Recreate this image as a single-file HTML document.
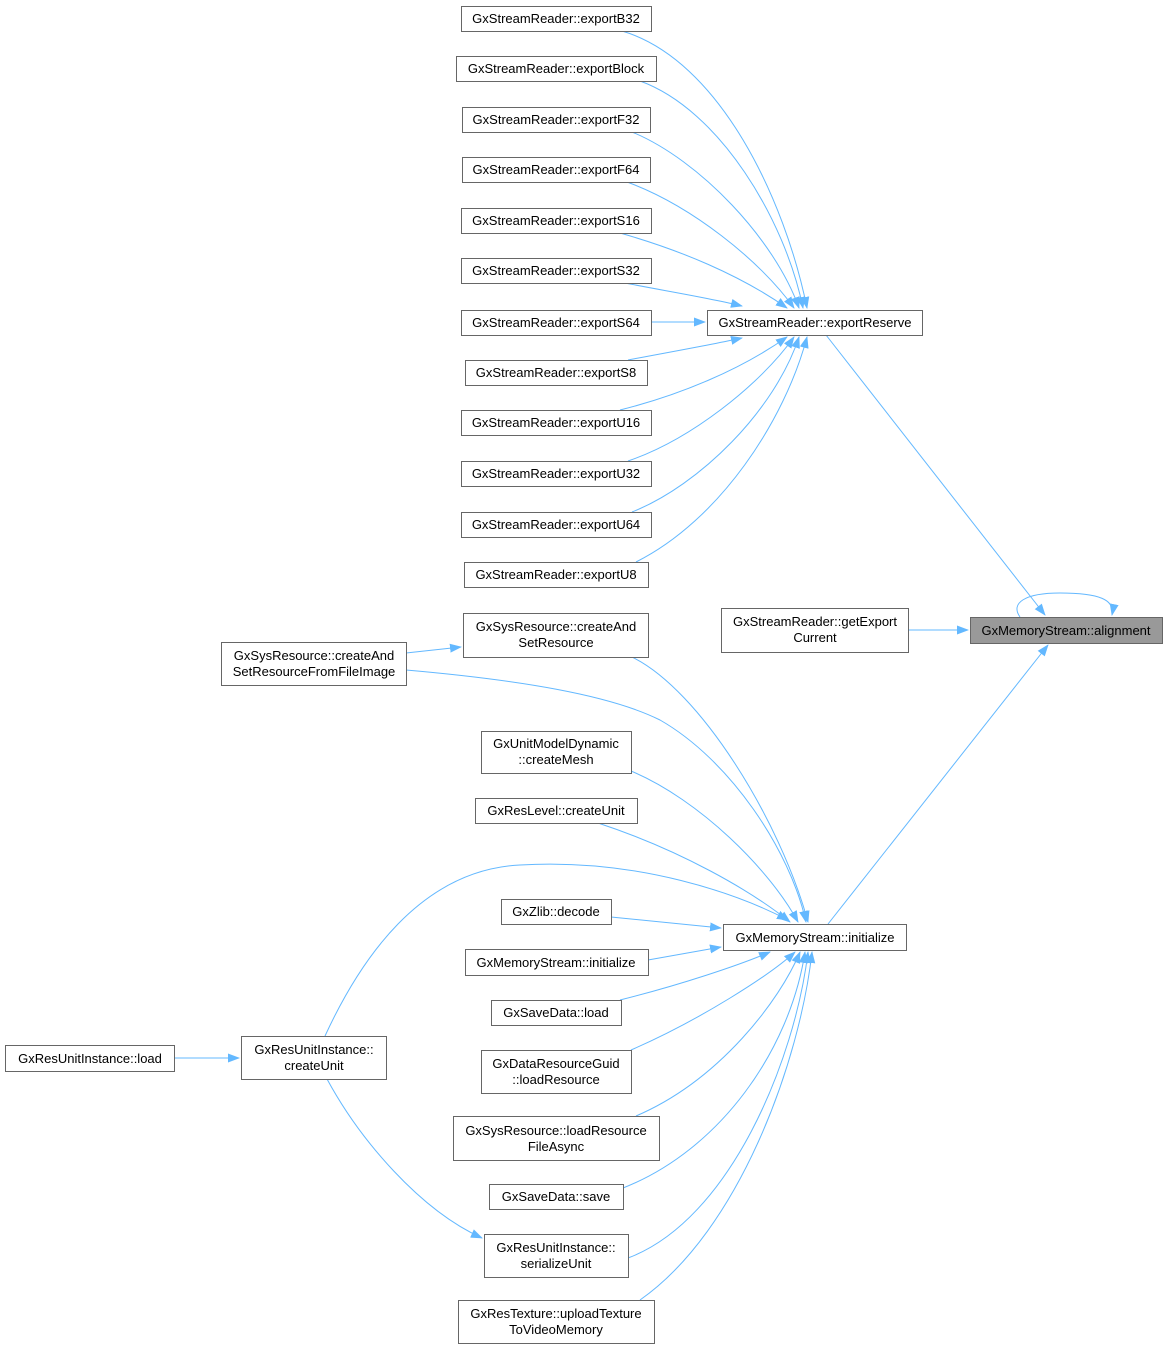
<!DOCTYPE html>
<html><head><meta charset="utf-8"><style>
html,body{margin:0;padding:0;background:#fff;width:1167px;height:1349px;overflow:hidden}
svg text{font-family:"Liberation Sans",Arial,sans-serif;font-size:13px;fill:#000}
</style></head><body>
<svg width="1167" height="1349" viewBox="0 0 1167 1349" xmlns="http://www.w3.org/2000/svg">
<defs>
<marker id="a" markerUnits="userSpaceOnUse" markerWidth="12" markerHeight="10" refX="11" refY="4.5" orient="auto">
<path d="M0,0 L12,4.5 L0,9 z" fill="#63b8ff"/></marker>
</defs>
<g fill="none" stroke="#63b8ff" stroke-width="1" marker-end="url(#a)">
<path d="M622,31 C720,60 785,200 807,308"/>
<path d="M640,81 C720,110 785,220 803,308"/>
<path d="M632,132 C700,160 775,240 799,308"/>
<path d="M627,182 C690,205 760,260 794,308"/>
<path d="M620,233 C680,250 740,275 787,308"/>
<path d="M625,283 C660,290 710,298 742,306"/>
<path d="M651,322 L705,322"/>
<path d="M628,360 C670,352 710,345 742,338"/>
<path d="M620,410 C680,395 740,370 787,337"/>
<path d="M628,461 C690,440 760,385 794,337"/>
<path d="M632,512 C700,485 775,410 799,337"/>
<path d="M636,562 C720,520 785,420 807,337"/>
<path d="M826,335 L1045,615"/>
<path d="M908,630 L968,630"/>
<path d="M1020,617 C1010,603 1025,593 1060,593 C1100,593 1115,600 1112,615"/>
<path d="M828,924 L1048,645"/>
<path d="M406,653 L461,647"/>
<path d="M406,670 C520,680 610,695 660,720 C730,760 790,850 806,922"/>
<path d="M632,657 C700,690 780,820 808,922"/>
<path d="M631,771 C700,800 770,870 798,922"/>
<path d="M598,823 C680,850 750,890 790,922"/>
<path d="M325,1036 C360,960 420,870 520,865 C640,858 740,895 788,920"/>
<path d="M611,917 L721,928"/>
<path d="M648,960 L721,947"/>
<path d="M620,1000 C680,985 740,965 770,952"/>
<path d="M631,1050 C700,1020 770,975 795,952"/>
<path d="M636,1116 C720,1080 780,1000 800,952"/>
<path d="M623,1188 C720,1150 790,1050 805,952"/>
<path d="M628,1258 C730,1220 795,1060 808,952"/>
<path d="M640,1300 C740,1230 800,1060 812,952"/>
<path d="M174,1058 L239,1058"/>
<path d="M327,1079 C360,1140 420,1210 482,1238"/>
</g>
<g fill="#fff" stroke="#666" stroke-width="1">
<rect x="461.5" y="6.5" width="190" height="25"/>
<rect x="456.5" y="56.5" width="200" height="25"/>
<rect x="462.5" y="107.5" width="188" height="25"/>
<rect x="462.5" y="157.5" width="188" height="25"/>
<rect x="461.5" y="208.5" width="190" height="25"/>
<rect x="461.5" y="258.5" width="190" height="25"/>
<rect x="461.5" y="310.5" width="190" height="25"/>
<rect x="465.5" y="360.5" width="182" height="25"/>
<rect x="461.5" y="410.5" width="190" height="25"/>
<rect x="461.5" y="461.5" width="190" height="25"/>
<rect x="461.5" y="512.5" width="190" height="25"/>
<rect x="464.5" y="562.5" width="184" height="25"/>
<rect x="707.5" y="310.5" width="215" height="25"/>
<rect x="721.5" y="608.5" width="187" height="44"/>
<rect x="970.5" y="617.5" width="192" height="26" fill="#999"/>
<rect x="463.5" y="613.5" width="185" height="44"/>
<rect x="221.5" y="642.5" width="185" height="43"/>
<rect x="481.5" y="731.5" width="150" height="42"/>
<rect x="475.5" y="798.5" width="162" height="25"/>
<rect x="501.5" y="899.5" width="110" height="25"/>
<rect x="465.5" y="949.5" width="183" height="26"/>
<rect x="723.5" y="924.5" width="183" height="26"/>
<rect x="491.5" y="1000.5" width="130" height="25"/>
<rect x="481.5" y="1050.5" width="150" height="43"/>
<rect x="453.5" y="1116.5" width="206" height="44"/>
<rect x="489.5" y="1184.5" width="134" height="25"/>
<rect x="484.5" y="1234.5" width="144" height="43"/>
<rect x="458.5" y="1300.5" width="196" height="43"/>
<rect x="241.5" y="1036.5" width="145" height="43"/>
<rect x="5.5" y="1045.5" width="169" height="26"/>
</g>
<g text-anchor="middle">
<text x="556" y="23">GxStreamReader::exportB32</text>
<text x="556" y="73">GxStreamReader::exportBlock</text>
<text x="556" y="124">GxStreamReader::exportF32</text>
<text x="556" y="174">GxStreamReader::exportF64</text>
<text x="556" y="225">GxStreamReader::exportS16</text>
<text x="556" y="275">GxStreamReader::exportS32</text>
<text x="556" y="327">GxStreamReader::exportS64</text>
<text x="556" y="377">GxStreamReader::exportS8</text>
<text x="556" y="427">GxStreamReader::exportU16</text>
<text x="556" y="478">GxStreamReader::exportU32</text>
<text x="556" y="529">GxStreamReader::exportU64</text>
<text x="556" y="579">GxStreamReader::exportU8</text>
<text x="815" y="327">GxStreamReader::exportReserve</text>
<text x="815" y="626">GxStreamReader::getExport</text>
<text x="815" y="642">Current</text>
<text x="1066" y="635">GxMemoryStream::alignment</text>
<text x="556" y="631">GxSysResource::createAnd</text>
<text x="556" y="647">SetResource</text>
<text x="314" y="660">GxSysResource::createAnd</text>
<text x="314" y="676">SetResourceFromFileImage</text>
<text x="556" y="748">GxUnitModelDynamic</text>
<text x="556" y="764">::createMesh</text>
<text x="556" y="815">GxResLevel::createUnit</text>
<text x="556" y="916">GxZlib::decode</text>
<text x="556" y="967">GxMemoryStream::initialize</text>
<text x="815" y="942">GxMemoryStream::initialize</text>
<text x="556" y="1017">GxSaveData::load</text>
<text x="556" y="1068">GxDataResourceGuid</text>
<text x="556" y="1084">::loadResource</text>
<text x="556" y="1135">GxSysResource::loadResource</text>
<text x="556" y="1151">FileAsync</text>
<text x="556" y="1201">GxSaveData::save</text>
<text x="556" y="1252">GxResUnitInstance::</text>
<text x="556" y="1268">serializeUnit</text>
<text x="556" y="1318">GxResTexture::uploadTexture</text>
<text x="556" y="1334">ToVideoMemory</text>
<text x="314" y="1054">GxResUnitInstance::</text>
<text x="314" y="1070">createUnit</text>
<text x="90" y="1063">GxResUnitInstance::load</text>
</g>
</svg>
</body></html>
